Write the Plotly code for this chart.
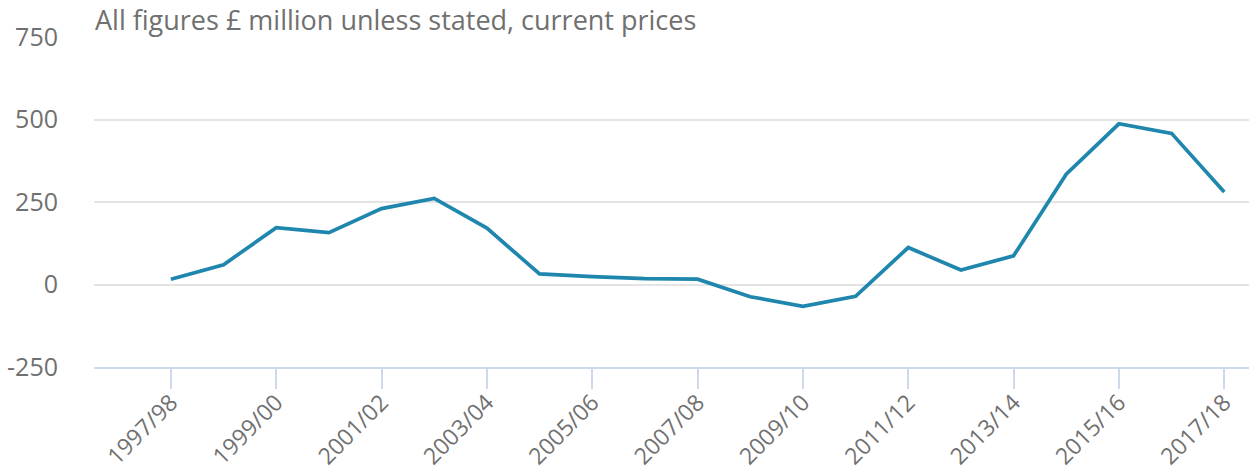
import plotly.graph_objects as go

years = ["1997/98", "1998/99", "1999/00", "2000/01", "2001/02", "2002/03", "2003/04",
         "2004/05", "2005/06", "2006/07", "2007/08", "2008/09", "2009/10", "2010/11",
         "2011/12", "2012/13", "2013/14", "2014/15", "2015/16", "2016/17", "2017/18"]
values = [16, 60, 172, 157, 230, 261, 171, 32, 24, 18, 16, -37, -66, -36,
          112, 44, 87, 334, 487, 458, 280]
y_ticks = [-250, 0, 250, 500, 750]
y_tick_labels = ["-250", "0", "250", "500", "750"]
title_text = "All figures £ million unless stated, current prices"

idx = list(range(len(years)))
tick_idx = idx[::2]
tick_lab = years[::2]

TXT = "#707070"
fig = go.Figure()
fig.add_trace(go.Scatter(x=idx, y=values, mode="lines",
                         line=dict(color="#1f87ae", width=3.7),
                         hoverinfo="skip", showlegend=False))

fig.update_layout(
    width=1249, height=472,
    margin=dict(l=94, r=0, t=37, b=105, autoexpand=False),
    paper_bgcolor="white", plot_bgcolor="white",
    font=dict(family="Open Sans", color=TXT, size=24),
    title=dict(text=title_text, x=95/1249, xanchor="left", xref="container",
               y=1-21/472, yanchor="middle", yref="container",
               font=dict(family="Open Sans", size=27, color=TXT)),
    showlegend=False,
)
fig.update_xaxes(range=[-1.46, 20.47], tickmode="array", tickvals=tick_idx, ticktext=tick_lab,
                 tickangle=-45, ticks="outside", ticklen=20, tickwidth=2, tickcolor="#cfd9ee",
                 showline=True, linecolor="#cfd9ee", linewidth=2, showgrid=False,
                 zeroline=False, automargin=False, ticklabelstandoff=-9,
                 tickfont=dict(size=23, color=TXT))
fig.update_yaxes(range=[-250, 750], tickmode="array", tickvals=y_ticks, ticktext=y_tick_labels,
                 showgrid=True, gridcolor="#e4e4e4", gridwidth=2,
                 zeroline=False, showline=False, ticks="", ticklabelstandoff=35,
                 automargin=False, tickfont=dict(size=25, color=TXT))

fig.write_html("out.html", config={"displayModeBar": False},
               post_script="document.body.style.margin='0';document.body.style.overflow='hidden';")
